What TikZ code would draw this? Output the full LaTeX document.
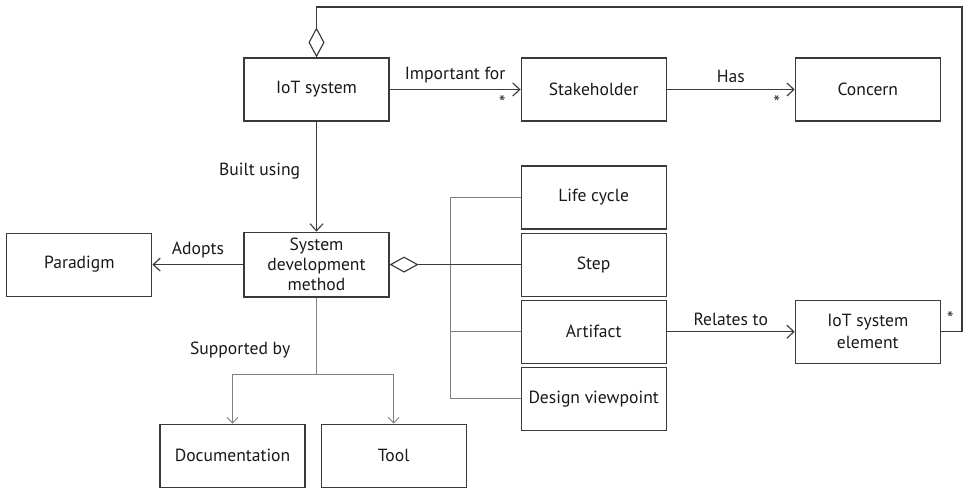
\documentclass[tikz,border=0pt]{standalone}
\usepackage{fontspec}
\setmainfont{PT Sans}
\usetikzlibrary{arrows.meta,positioning}

\definecolor{boxline}{HTML}{3A3A3A}
\definecolor{busline}{HTML}{808080}

\begin{document}
\begin{tikzpicture}[
    >={Straight Barb[length=1.4mm,width=2.6mm]},
    node distance=2.2cm and 2.62cm,
    block/.style={rectangle,draw=boxline,line width=0.65pt,minimum width=2.9cm,minimum height=1.26cm,
                  align=center,font=\fontsize{10}{11.5}\selectfont,text=black!90},
    assoc/.style={draw=boxline,line width=0.65pt},
    bus/.style={draw=busline,line width=0.5pt},
    support/.style={draw=busline,line width=0.5pt,>={Straight Barb[length=1.1mm,width=2.2mm]}},
    lbl/.style={font=\fontsize{10}{11.5}\selectfont,text=black!90},
    star/.style={font=\fontsize{11}{12}\selectfont,text=black!80}
]
\useasboundingbox (0,0) rectangle (19.38,-9.92);

\node[block] (iot) at (6.33,-1.79) {IoT system};
\node[block, right=of iot] (stake) {Stakeholder};
\node[block, right=2.56cm of stake] (concern) {Concern};
\node[block, below=of iot] (sdm) {System\\development\\method};
\node[block, left=1.82cm of sdm] (paradigm) {Paradigm};
\node[block, right=of sdm] (step) {Step};
\node[block, above=0.06cm of step] (life) {Life cycle};
\node[block, below=0.06cm of step] (artifact) {Artifact};
\node[block, below=0.06cm of artifact] (design) {Design viewpoint};
\node[block, right=2.56cm of artifact] (elem) {IoT system\\[1pt]element};
\node[block, below=2.52cm of sdm, xshift=-1.68cm] (doc) {Documentation};
\node[block, right=0.3cm of doc] (tool) {Tool};

% associations
\draw[assoc,->] (iot) -- node[lbl,above] {Important for} node[star,pos=0.86,below] {*} (stake);
\draw[assoc,->] (stake) -- node[lbl,above] {Has} node[star,pos=0.86,below] {*} (concern);
\draw[assoc,->] (iot) -- node[lbl,pos=0.45,left=0.2cm] {Built using} (sdm);
\draw[assoc,->] (sdm) -- node[lbl,above] {Adopts} (paradigm);
\draw[assoc,->] (artifact) -- node[lbl,above] {Relates to} (elem);

% aggregation of system elements
\coordinate (corner) at (19.24,-0.14);
\draw[assoc,-{Diamond[open,length=6mm,width=3.2mm]}] (elem.east)
    -- node[star,pos=0.45,above] {*} (elem.east -| corner) -- (corner)
    -- (iot.north |- corner) -- (iot.north);

% parts of the method
\coordinate (btop) at ([xshift=-1.4cm]life.west);
\coordinate (bbot) at ([xshift=-1.4cm]design.west);
\draw[bus] (life.west) -- (btop) -- (bbot) -- (design.west);
\draw[bus] (artifact.west) -- (artifact.west -| btop);
\draw[assoc,-{Diamond[open,length=5.8mm,width=3.2mm]}] (step.west) -- (sdm.east);

% support
\coordinate (split) at ([yshift=-1.54cm]sdm.south);
\draw[support] (sdm.south) -- node[lbl,pos=0.68,left=0.4cm] {Supported by} (split);
\draw[support,->] (split) -| (doc.north);
\draw[support,->] (split) -| (tool.north);
\end{tikzpicture}
\end{document}
